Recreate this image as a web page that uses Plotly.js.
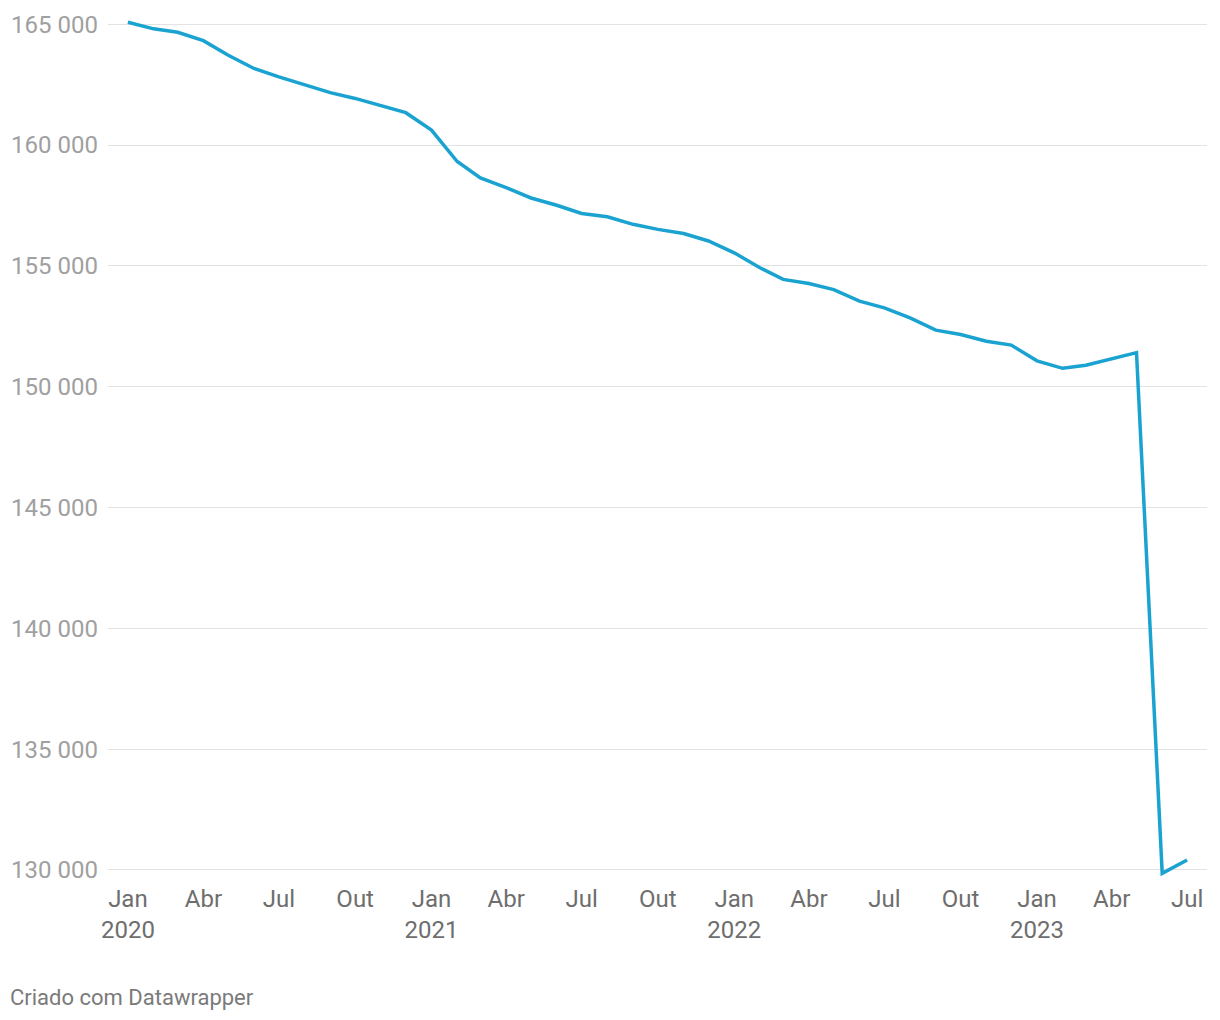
<!DOCTYPE html>
<html>
<head>
<meta charset="utf-8">
<script src="https://cdn.plot.ly/plotly-3.0.1.min.js"></script>
<style>
  html, body { margin: 0; padding: 0; background: #fff; }
  #chart { width: 1220px; height: 1020px; }
</style>
</head>
<body>
<div id="chart"></div>
<script>
// Monthly dates (Jan 2020 – Jul 2023)
const months = [
  "2020-01-01","2020-02-01","2020-03-01","2020-04-01","2020-05-01","2020-06-01",
  "2020-07-01","2020-08-01","2020-09-01","2020-10-01","2020-11-01","2020-12-01",
  "2021-01-01","2021-02-01","2021-03-01","2021-04-01","2021-05-01","2021-06-01",
  "2021-07-01","2021-08-01","2021-09-01","2021-10-01","2021-11-01","2021-12-01",
  "2022-01-01","2022-02-01","2022-03-01","2022-04-01","2022-05-01","2022-06-01",
  "2022-07-01","2022-08-01","2022-09-01","2022-10-01","2022-11-01","2022-12-01",
  "2023-01-01","2023-02-01","2023-03-01","2023-04-01","2023-05-01","2023-06-01",
  "2023-07-01"
];
const values = [
  165080, 164810, 164670, 164320, 163720, 163170,
  162820, 162500, 162170, 161930, 161640, 161340,
  160620, 159320, 158640, 158240, 157810, 157510,
  157170, 157030, 156720, 156510, 156340, 156030,
  155540, 154920, 154440, 154270, 154020, 153540,
  153260, 152850, 152340, 152160, 151880, 151720,
  151070, 150760, 150890, 151150, 151410, 129860,
  130410
];
// Axis ticks
const xTickVals = [
  "2020-01-01","2020-04-01","2020-07-01","2020-10-01",
  "2021-01-01","2021-04-01","2021-07-01","2021-10-01",
  "2022-01-01","2022-04-01","2022-07-01","2022-10-01",
  "2023-01-01","2023-04-01","2023-07-01"
];
const xTickText = [
  "Jan<br>2020","Abr","Jul","Out",
  "Jan<br>2021","Abr","Jul","Out",
  "Jan<br>2022","Abr","Jul","Out",
  "Jan<br>2023","Abr","Jul"
];
const yTickVals = [130000, 135000, 140000, 145000, 150000, 155000, 160000, 165000];
const yTickText = ["130 000","135 000","140 000","145 000","150 000","155 000","160 000","165 000"];
const footer = "Criado com Datawrapper";

const trace = {
  x: months,
  y: values,
  type: "scatter",
  mode: "lines",
  line: { color: "#1aa3d1", width: 3.5 },
  hoverinfo: "x+y"
};

const layout = {
  width: 1220,
  height: 1020,
  margin: { l: 108, r: 13, t: 17, b: 138 },
  paper_bgcolor: "#ffffff",
  plot_bgcolor: "#ffffff",
  showlegend: false,
  font: { family: "Roboto, sans-serif", size: 24, color: "#6e6e6e" },
  xaxis: {
    type: "date",
    range: ["2019-12-08", "2023-07-25"],
    tickvals: xTickVals,
    ticktext: xTickText,
    showgrid: false,
    zeroline: false,
    showline: false,
    ticks: "",
    tickfont: { family: "Roboto, sans-serif", size: 24, color: "#6e6e6e" },
    fixedrange: true
  },
  yaxis: {
    range: [129500, 165300],
    tickvals: yTickVals,
    ticktext: yTickText,
    showgrid: true,
    gridcolor: "#e3e3e3",
    gridwidth: 1,
    zeroline: false,
    showline: false,
    ticks: "",
    ticklabelstandoff: 9,
    tickfont: { family: "Roboto, sans-serif", size: 24, color: "#a0a0a0" },
    fixedrange: true
  },
  annotations: [{
    text: footer,
    xref: "paper", yref: "paper",
    x: -0.091, y: -0.133,
    xanchor: "left", yanchor: "middle",
    showarrow: false,
    font: { family: "Roboto, sans-serif", size: 22, color: "#7a7a7a" }
  }]
};

Plotly.newPlot("chart", [trace], layout, { displayModeBar: false, staticPlot: true });
</script>
</body>
</html>
